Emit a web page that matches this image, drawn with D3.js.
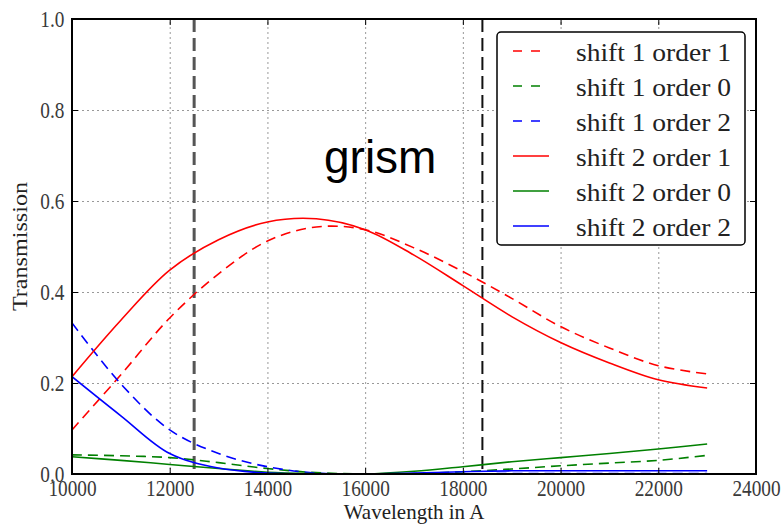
<!DOCTYPE html>
<html>
<head>
<meta charset="utf-8">
<script src="https://cdn.jsdelivr.net/npm/d3@7"></script>
<style>
body { margin: 0; background: #fff; }
svg text { font-family: "Liberation Serif", "DejaVu Serif", serif; }
</style>
</head>
<body>
<script>
const width = 784
const height = 529

// data (transmission vs wavelength, every 1000 A)
const wavelengths = [10000, 11000, 12000, 13000, 14000, 15000, 16000, 17000, 18000, 19000, 20000, 21000, 22000, 23000]
const shift1Order1 = [0.097, 0.218, 0.343, 0.440, 0.512, 0.543, 0.537, 0.497, 0.445, 0.386, 0.324, 0.277, 0.238, 0.220]
const shift1Order0 = [0.042, 0.040, 0.036, 0.025, 0.012, 0.003, 0.000, 0.001, 0.005, 0.011, 0.018, 0.024, 0.030, 0.041]
const shift1Order2 = [0.332, 0.198, 0.097, 0.045, 0.016, 0.002, 0.000, 0.000, 0.000, 0.001, 0.001, 0.001, 0.001, 0.001]
const shift2Order1 = [0.214, 0.338, 0.448, 0.515, 0.554, 0.561, 0.537, 0.481, 0.414, 0.346, 0.289, 0.244, 0.207, 0.189]
const shift2Order0 = [0.038, 0.030, 0.021, 0.012, 0.004, 0.001, 0.000, 0.006, 0.016, 0.027, 0.036, 0.045, 0.055, 0.066]
const shift2Order2 = [0.214, 0.128, 0.045, 0.013, 0.002, 0.000, 0.000, 0.002, 0.005, 0.007, 0.007, 0.007, 0.007, 0.007]

const seriesNames = ['shift 1 order 1', 'shift 1 order 0', 'shift 1 order 2', 'shift 2 order 1', 'shift 2 order 0', 'shift 2 order 2']
const seriesValues = [shift1Order1, shift1Order0, shift1Order2, shift2Order1, shift2Order0, shift2Order2]
const seriesColors = ['#ff0000', '#008000', '#0000ff', '#ff0000', '#008000', '#0000ff']
const seriesDashed = [true, true, true, false, false, false]

// band edges (vertical black dashed lines)
const bandEdges = [12500, 18400]

const xTicks = [10000, 12000, 14000, 16000, 18000, 20000, 22000, 24000]
const yTicks = [0.0, 0.2, 0.4, 0.6, 0.8, 1.0]

const plot = {left: 72, right: 756, top: 19, bottom: 474}

const x = d3.scaleLinear().domain([10000, 24000]).range([plot.left, plot.right])
const y = d3.scaleLinear().domain([0, 1]).range([plot.bottom, plot.top])

const svg = d3.select('body').append('svg')
    .attr('width', width)
    .attr('height', height)

svg.append('clipPath')
    .attr('id', 'plot-clip')
    .append('rect')
    .attr('x', plot.left)
    .attr('y', plot.top)
    .attr('width', plot.right - plot.left)
    .attr('height', plot.bottom - plot.top)

// Grid
svg.append('g')
    .attr('transform', `translate(0,${plot.bottom})`)
    .call(d3.axisBottom(x).tickValues(xTicks.slice(1, -1)).tickSize(-(plot.bottom - plot.top)).tickFormat(''))
    .call(g => g.select('.domain').remove())
    .call(g => g.selectAll('line').attr('stroke', '#999').attr('stroke-dasharray', '2,3'))

svg.append('g')
    .attr('transform', `translate(${plot.left},0)`)
    .call(d3.axisLeft(y).tickValues(yTicks.slice(1, -1)).tickSize(-(plot.right - plot.left)).tickFormat(''))
    .call(g => g.select('.domain').remove())
    .call(g => g.selectAll('line').attr('stroke', '#999').attr('stroke-dasharray', '2,3'))

// Band edges
svg.selectAll('.edge')
    .data(bandEdges)
    .enter().append('line')
    .attr('class', 'edge')
    .attr('x1', d => x(d))
    .attr('x2', d => x(d))
    .attr('y1', plot.top)
    .attr('y2', plot.bottom)
    .attr('stroke', (d, i) => i == 0 ? '#555' : '#111')
    .attr('stroke-width', (d, i) => i == 0 ? 3 : 2)
    .attr('stroke-dasharray', '13,6')

// Curves
let line = d3.line()
    .x(d => x(d[0]))
    .y(d => y(d[1]))
    .curve(d3.curveCatmullRom.alpha(0.5))

let curves = svg.append('g').attr('clip-path', 'url(#plot-clip)')

seriesValues.forEach((vals, i) => {
    curves.append('path')
        .datum(wavelengths.map((w, j) => [w, vals[j]]))
        .attr('fill', 'none')
        .attr('stroke', seriesColors[i])
        .attr('stroke-width', 1.6)
        .attr('stroke-dasharray', seriesDashed[i] ? '10,6' : null)
        .attr('d', line)
})

// Axes (inward ticks, labels)
const labelScale = 'scale(0.84,1)'

svg.append('g')
    .attr('transform', `translate(0,${plot.bottom})`)
    .call(d3.axisBottom(x).tickValues(xTicks).tickSizeInner(-6).tickSizeOuter(0).tickPadding(6).tickFormat(d3.format('d')))
    .call(g => g.select('.domain').remove())
    .call(g => g.selectAll('line').attr('stroke', '#000'))
    .call(g => g.selectAll('text')
        .style('font-size', '23px')
        .attr('fill', '#3a3a3a')
        .attr('transform', labelScale))

svg.append('g')
    .attr('transform', `translate(${plot.left},0)`)
    .call(d3.axisLeft(y).tickValues(yTicks).tickSizeInner(-6).tickSizeOuter(0).tickPadding(9).tickFormat(d3.format('.1f')))
    .call(g => g.select('.domain').remove())
    .call(g => g.selectAll('line').attr('stroke', '#000'))
    .call(g => g.selectAll('text')
        .style('font-size', '23px')
        .attr('fill', '#3a3a3a')
        .attr('transform', labelScale))

svg.append('g')
    .attr('transform', `translate(0,${plot.top})`)
    .call(d3.axisTop(x).tickValues(xTicks).tickSizeInner(-6).tickSizeOuter(0).tickFormat(''))
    .call(g => g.select('.domain').remove())

svg.append('g')
    .attr('transform', `translate(${plot.right},0)`)
    .call(d3.axisRight(y).tickValues(yTicks).tickSizeInner(-6).tickSizeOuter(0).tickFormat(''))
    .call(g => g.select('.domain').remove())

// Frame
svg.append('rect')
    .attr('x', plot.left)
    .attr('y', plot.top)
    .attr('width', plot.right - plot.left)
    .attr('height', plot.bottom - plot.top)
    .attr('fill', 'none')
    .attr('stroke', '#000')
    .attr('stroke-width', 2)

// Axis titles
svg.append('text')
    .attr('transform', `translate(${(plot.left + plot.right) / 2},519) scale(1.05,1)`)
    .attr('text-anchor', 'middle')
    .style('font-size', '20px')
    .attr('fill', '#222')
    .text('Wavelength in A')

svg.append('text')
    .attr('transform', `translate(27,${(plot.top + plot.bottom) / 2}) rotate(-90) scale(1.15,1)`)
    .attr('text-anchor', 'middle')
    .style('font-size', '21px')
    .attr('fill', '#222')
    .text('Transmission')

// Legend
let legend = svg.append('g')

legend.append('rect')
    .attr('x', 497)
    .attr('y', 32)
    .attr('width', 248)
    .attr('height', 213)
    .attr('rx', 4)
    .attr('fill', '#fff')
    .attr('stroke', '#000')
    .attr('stroke-width', 1.5)

seriesNames.forEach((name, i) => {
    let ry = 51 + i * 35
    legend.append('line')
        .attr('x1', 513)
        .attr('x2', 549)
        .attr('y1', ry)
        .attr('y2', ry)
        .attr('stroke', seriesColors[i])
        .attr('stroke-width', 1.6)
        .attr('stroke-dasharray', seriesDashed[i] ? '9,9' : null)
    legend.append('text')
        .attr('transform', `translate(576,${ry + 10}) scale(1.1,1)`)
        .style('font-size', '25px')
        .attr('fill', '#222')
        .text(name)
})

// Annotation
svg.append('text')
    .attr('x', 324)
    .attr('y', 173)
    .style('font-family', '"Liberation Sans", Arial, sans-serif')
    .style('font-size', '46px')
    .attr('fill', '#000')
    .text('grism')
</script>
</body>
</html>
